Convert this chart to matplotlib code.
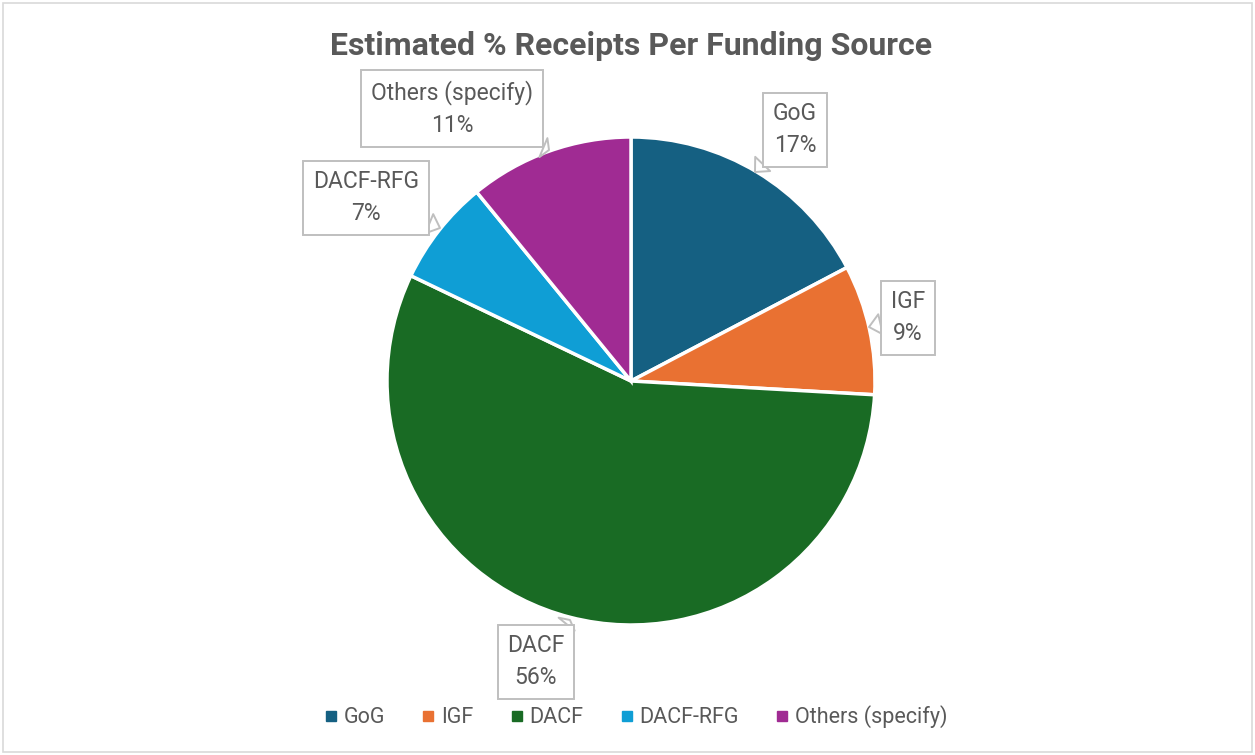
import matplotlib.pyplot as plt
from matplotlib.patches import Rectangle
from matplotlib.lines import Line2D

plt.rcParams['font.family'] = ['Roboto', 'DejaVu Sans']

# data (% of receipts)
sources = ['GoG', 'IGF', 'DACF', 'DACF-RFG', 'Others (specify)']
shares = [17.3, 8.6, 56.2, 7.0, 10.9]
colors = ['#156082', '#E97132', '#196B24', '#0F9ED5', '#A02B93']

# label box centres and pointer tips (pixel coords, origin bottom-left)
label_pos = [(795, 625), (908, 437), (536, 93), (366, 557), (452, 646)]
tip_pos = [(755, 583), (869, 428), (570, 135), (440, 527), (549, 605)]

W, H = 1255, 755
fig = plt.figure(figsize=(W / 100, H / 100), dpi=100)
ax = fig.add_axes([0, 0, 1, 1])

wedges, _ = ax.pie(shares, colors=colors, startangle=90, counterclock=False,
                   center=(631, 374), radius=244,
                   wedgeprops=dict(edgecolor='white', linewidth=2.5))
ax.set_xlim(0, W)
ax.set_ylim(0, H)
ax.set_aspect('equal')
ax.axis('off')

# light grey chart border
ax.add_patch(Rectangle((3, 3), W - 6, H - 6, fill=False, ec='#d9d9d9', lw=1.2))

grey = '#595959'
total = sum(shares)
for name, val, xy, tip in zip(sources, shares, label_pos, tip_pos):
    ax.annotate(f'{name}\n{round(val / total * 100):.0f}%', xy=tip, xytext=xy,
                ha='center', va='center', fontsize=16.5, color=grey,
                linespacing=1.5,
                bbox=dict(boxstyle='square,pad=0.42', fc='white', ec='#bfbfbf', lw=1.4),
                arrowprops=dict(arrowstyle='wedge,tail_width=0.9,shrink_factor=0.5',
                                fc='white', ec='#bfbfbf', lw=1.4,
                                shrinkA=0, shrinkB=0))

ax.text(631, 709, 'Estimated % Receipts Per Funding Source', ha='center', va='center',
        fontsize=23, fontweight='bold', color=grey)

handles = [Line2D([], [], marker='s', ls='', color=c, markersize=7) for c in colors]
ax.legend(handles, sources, loc='center', bbox_to_anchor=(636 / W, 38 / H),
          bbox_transform=fig.transFigure, ncol=5, frameon=False, fontsize=15.5,
          labelcolor=grey, handlelength=0.6, handletextpad=0.3, columnspacing=1.7)

fig.savefig('out.png', dpi=100)
